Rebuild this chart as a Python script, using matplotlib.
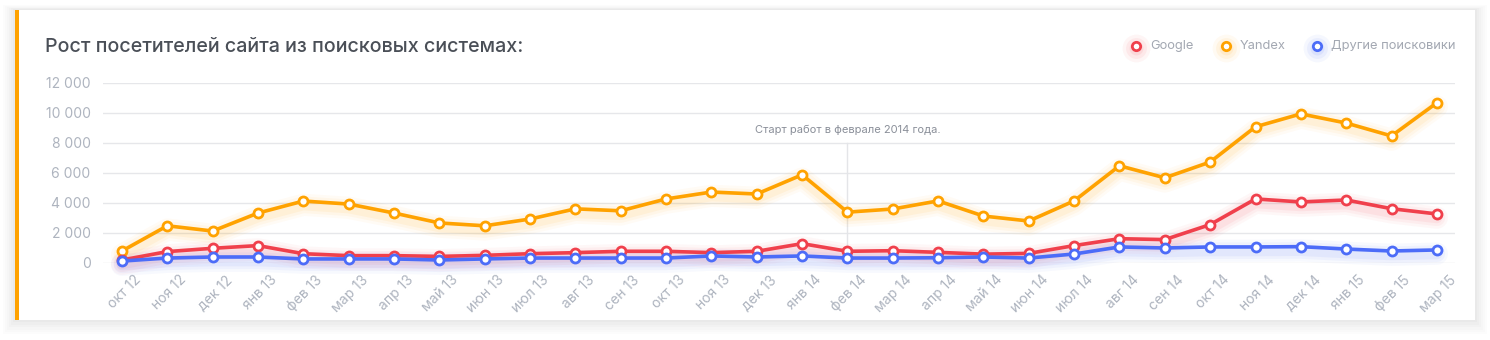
import matplotlib
matplotlib.use("Agg")
import matplotlib.pyplot as plt
from matplotlib.patches import Rectangle
from matplotlib.transforms import ScaledTranslation
import numpy as np

plt.rcParams["font.family"] = ["Inter", "DejaVu Sans"]

months = [
    "окт 12", "ноя 12", "дек 12", "янв 13", "фев 13", "мар 13", "апр 13",
    "май 13", "июн 13", "июл 13", "авг 13", "сен 13", "окт 13", "ноя 13",
    "дек 13", "янв 14", "фев 14", "мар 14", "апр 14", "май 14", "июн 14",
    "июл 14", "авг 14", "сен 14", "окт 14", "ноя 14", "дек 14", "янв 15",
    "фев 15", "мар 15",
]
google = [
    200, 760, 980, 1160, 620, 490, 490, 440, 510, 620,
    690, 780, 780, 690, 780, 1290, 780, 820, 710, 590,
    640, 1160, 1620, 1560, 2560, 4270, 4070, 4200, 3620, 3270,
]
yandex = [
    800, 2480, 2130, 3330, 4130, 3930, 3330, 2670, 2480, 2930,
    3610, 3480, 4270, 4730, 4600, 5880, 3390, 3600, 4140, 3130,
    2800, 4140, 6480, 5680, 6730, 9080, 9940, 9330, 8470, 10680,
]
others = [
    130, 330, 400, 400, 270, 270, 270, 200, 270, 330,
    330, 330, 330, 470, 400, 470, 330, 330, 350, 400,
    330, 600, 1070, 1000, 1070, 1070, 1090, 930, 800, 870,
]
series_names = ["Google", "Yandex", "Другие поисковики"]
series_colors = ["#f0404c", "#ffa200", "#4c6cf8"]
yticks = [0, 2000, 4000, 6000, 8000, 10000, 12000]
ytick_labels = ["0", "2 000", "4 000", "6 000", "8 000", "10 000", "12 000"]
note_month = "фев 14"
note_text = "Старт работ в феврале 2014 года."
title = "Рост посетителей сайта из поисковых системах:"

W, H = 1490, 340
fig = plt.figure(figsize=(W / 100, H / 100), dpi=100)
fig.patch.set_facecolor("white")

# card shadow + card + orange stripe
bg = fig.add_axes([0, 0, 1, 1])
bg.set_xlim(0, W)
bg.set_ylim(H, 0)
bg.axis("off")
for i, a in enumerate([0.012, 0.012, 0.012, 0.014, 0.016, 0.018]):
    g = 12 - 2 * i
    bg.add_patch(Rectangle((15 - g, 10 - g * 0.4), 1460 + 2 * g, 310 + g * 1.6,
                           facecolor="#000000", alpha=a, lw=0))
bg.add_patch(Rectangle((15, 10), 1460, 310, facecolor="white", lw=0))
bg.add_patch(Rectangle((15, 10), 4, 310, facecolor="#ffa200", lw=0))
bg.text(45, 47, title, fontsize=14.2, fontweight="medium", color="#4a4f57",
        va="center", ha="left")

# legend
leg_x = [1136, 1226, 1317]
for x, name, c in zip(leg_x, series_names, series_colors):
    for s, a in [(20, 0.05), (15, 0.07), (10, 0.09)]:
        bg.plot([x], [48], "o", ms=s, color=c, alpha=a, mec="none")
    bg.plot([x], [46], "o", ms=6, mfc="white", mec=c, mew=2)
    bg.text(x + 14, 46, name, fontsize=9.3, color="#a3a8b2", va="center", ha="left")

ax = fig.add_axes([103 / W, 1 - 263 / H, (1455 - 103) / W, (263 - 83) / H])
ax.set_facecolor("none")
x = np.arange(len(months))
ax.set_xlim(-0.419, 29.4)
ax.set_ylim(0, 12000)
for s in ax.spines.values():
    s.set_visible(False)
ax.set_yticks(yticks, ytick_labels)
ax.set_xticks(x, months)
ax.tick_params(length=0, colors="#aeb4bf", labelsize=10)
ax.tick_params(axis="y", pad=9)
ax.tick_params(axis="x", pad=7)
shift = ScaledTranslation(12 / 100, 0, fig.dpi_scale_trans)
for lab in ax.get_xticklabels():
    lab.set_rotation(45)
    lab.set_ha("right")
    lab.set_va("top")
    lab.set_rotation_mode("anchor")
    lab.set_transform(lab.get_transform() + shift)
ax.grid(axis="y", color="#e6e7ea", lw=1)
ax.set_axisbelow(True)

xi = months.index(note_month)
ax.plot([xi, xi], [0, 8000], color="#e4e5e8", lw=1, zorder=1)
ax.text(xi, 8850, note_text, fontsize=8, color="#8a8f99", ha="center", va="center")

# glow then lines, drawn from back series to front
order = [(yandex, series_colors[1]), (google, series_colors[0]), (others, series_colors[2])]
for vals, c in order:
    for lw, a in [(16, 0.04), (12, 0.05), (8, 0.07)]:
        ax.plot(x, np.array(vals) - 250, color=c, lw=lw, alpha=a,
                solid_capstyle="round", clip_on=False, zorder=2)
for vals, c in order:
    ax.plot(x, vals, color=c, lw=2.6, marker="o", ms=6.5, mfc="white", mec=c,
            mew=2, clip_on=False, zorder=3)

fig.savefig("out.png", dpi=100)
